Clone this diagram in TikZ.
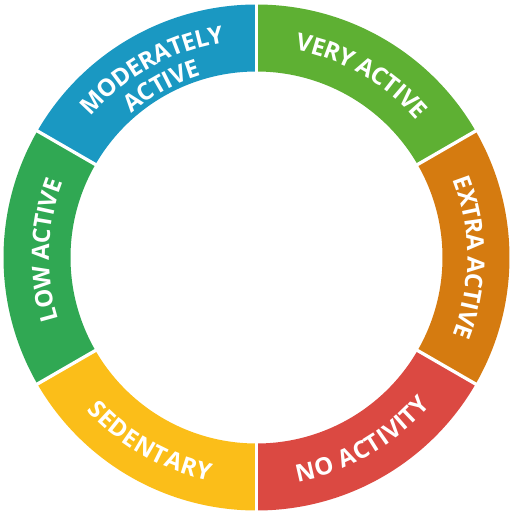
\documentclass[tikz,border=0pt]{standalone}
\usepackage{fontspec}
\newfontfamily\labfont{Open Sans}
\usetikzlibrary{decorations.text}
\definecolor{cblue}{RGB}{26,152,194}
\definecolor{cvgreen}{RGB}{94,176,51}
\definecolor{corange}{RGB}{213,123,16}
\definecolor{cred}{RGB}{219,73,66}
\definecolor{cyellow}{RGB}{251,190,25}
\definecolor{clgreen}{RGB}{48,168,83}
\newcommand{\Rout}{253}
\newcommand{\Rin}{186}
\newcommand{\sector}[3]{%
  \fill[#3] (#1:\Rout pt) arc[start angle=#1,end angle=#2,radius=\Rout pt]
    -- (#2:\Rin pt) arc[start angle=#2,end angle=#1,radius=\Rin pt] -- cycle;}
\tikzset{
  cwlabel/.style={decorate,decoration={text along path,text align=center,
      raise=-8.6pt,text color=white,
      text={|\labfont\bfseries\fontsize{24pt}{24pt}\selectfont|#1}}},
}
\begin{document}
\begin{tikzpicture}
\useasboundingbox (-256.5pt,-256.5pt) rectangle (257.5pt,257.5pt);
\sector{90}{30}{cvgreen}
\sector{30}{-30}{corange}
\sector{-30}{-90}{cred}
\sector{-90}{-150}{cyellow}
\sector{-150}{-210}{clgreen}
\sector{150}{90}{cblue}
\foreach \a in {90,30,-30,-90,-150,150}
  \draw[white,line width=3.3pt] (\a:175pt) -- (\a:262pt);
% clockwise labels (tops outward)
\path[cwlabel={VERY ACTIVE}] (100:219.5pt) arc[start angle=100,end angle=20,radius=219.5pt];
\path[cwlabel={EXTRA ACTIVE}] (40:219.5pt) arc[start angle=40,end angle=-40,radius=219.5pt];
\path[cwlabel={LOW ACTIVE}] (218:216pt) arc[start angle=218,end angle=138,radius=216pt];
\path[cwlabel={MODERATELY}] (159:226pt) arc[start angle=159,end angle=79,radius=226pt];
\path[cwlabel={ACTIVE}] (159:199pt) arc[start angle=159,end angle=79,radius=199pt];
% counter-clockwise labels (tops inward)
\path[cwlabel={SEDENTARY}] (-160:219.5pt) arc[start angle=-160,end angle=-80,radius=219.5pt];
\path[cwlabel={NO ACTIVITY}] (-100:219.5pt) arc[start angle=-100,end angle=-20,radius=219.5pt];
\end{tikzpicture}
\end{document}
